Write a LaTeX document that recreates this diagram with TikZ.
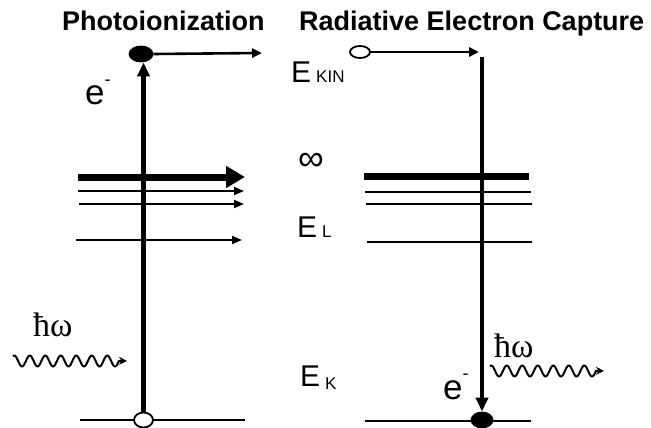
\documentclass[tikz,border=0pt]{standalone}
\usepackage{fontspec}
\setmainfont{Liberation Sans}
\newfontfamily\serifw{Liberation Serif}
\usetikzlibrary{arrows.meta,shapes.geometric}
\begin{document}
\begin{tikzpicture}[x=1pt,y=-1pt,
  lvl/.style={line width=1.8pt},
  thicklvl/.style={line width=7pt},
  smallhead/.style={-{Triangle[length=10pt,width=8pt]}},
  bighead/.style={-{Triangle[length=19pt,width=21pt]}},
  vert/.style={line width=4.2pt,-{Triangle[length=14pt,width=12pt]}},
  horiz/.style={line width=2.6pt,-{Triangle[length=10pt,width=9pt]}},
  elec/.style={ellipse,draw,line width=1.8pt,inner sep=0pt},
  title/.style={anchor=base west,inner sep=0pt,font=\fontsize{27}{27}\selectfont\bfseries},
  elab/.style={anchor=base west,inner sep=0pt,font=\fontsize{30}{30}\selectfont},
  photon/.style={line width=2pt,line join=round,-{Stealth[length=8pt,width=8pt]}},
  hw/.style={anchor=base west,inner sep=0pt,font=\fontsize{34}{34}\selectfont\serifw},
  elet/.style={anchor=base west,inner sep=0pt,font=\fontsize{35}{35}\selectfont}]
\useasboundingbox (0,0) rectangle (651,428);

% titles
\node[title] (t1) at (62,31) {Photoionization};
\node[title] (t2) at (299,31) {Radiative Electron Capture};

% middle labels
\node[elab] (ekin) at (291,82) {E\hspace{5pt}{\fontsize{17}{17}\selectfont KIN}};
\node[inner sep=0pt,font=\fontsize{36}{36}\selectfont] (inf) at (311,162) {∞};
\node[elab] (el) at (297,237) {E\hspace{5pt}{\fontsize{17}{17}\selectfont L}};
\node[elab] (ek) at (300,386) {E\hspace{5pt}{\fontsize{17}{17}\selectfont\raisebox{-3pt}{K}}};

% ---------- left: photoionization ----------
\draw[lvl] (80,420) -- (245,420);
\draw[thicklvl,bighead] (78,177) -- (245,177);
\draw[lvl,smallhead] (78,191) -- (244,191);
\draw[lvl,smallhead] (79,204) -- (244,204);
\draw[lvl,smallhead] (76,240) -- (242,240);

\node[elec,fill=white,minimum width=19pt,minimum height=15pt] (lk) at (143.5,420) {};
\node[elec,fill=black,minimum width=23pt,minimum height=15pt] (lf) at (141,54) {};
\draw[vert] (lk.north) -- (lk.north |- lf.south);
\coordinate (lfe) at (262,53);
\draw[horiz] (lf.east) -- (lfe);

\node[elet] (le) at (85,105) {e\raisebox{20pt}{\fontsize{18}{18}\selectfont -}};
\node[hw] (lhw) at (33,336) {ħω};
\coordinate (lwtip) at (127,361);
\draw[photon] plot[smooth,domain=13:119,samples=140] (\x,{361-5.5*sin((\x-13)/15.5*360+60)}) -- (lwtip);

% ---------- right: radiative electron capture ----------
\draw[thicklvl] (364,176) -- (529,176);
\draw[lvl] (365,192) -- (531,192);
\draw[lvl] (366,204) -- (532,204);
\draw[lvl] (367,242) -- (532,242);
\draw[lvl] (365,421) -- (531,421);

\node[elec,fill=white,minimum width=20pt,minimum height=12pt] (ro) at (360,52) {};
\coordinate (roe) at (479,52);
\draw[horiz] (ro.east) -- (roe);
\node[elec,fill=black,minimum width=21pt,minimum height=15pt] (rf) at (482,420) {};
\coordinate (rtop) at (482,57);
\draw[vert] (rtop) -- (rf.north);

\node[elet] (re) at (443,399) {e\raisebox{20pt}{\fontsize{18}{18}\selectfont -}};
\node[hw] (rhw) at (494,357) {ħω};
\coordinate (rwtip) at (604,371);
\draw[photon] plot[smooth,domain=490:596,samples=140] (\x,{371-5.5*sin((\x-490)/15.5*360+60)}) -- (rwtip);
\end{tikzpicture}
\end{document}
